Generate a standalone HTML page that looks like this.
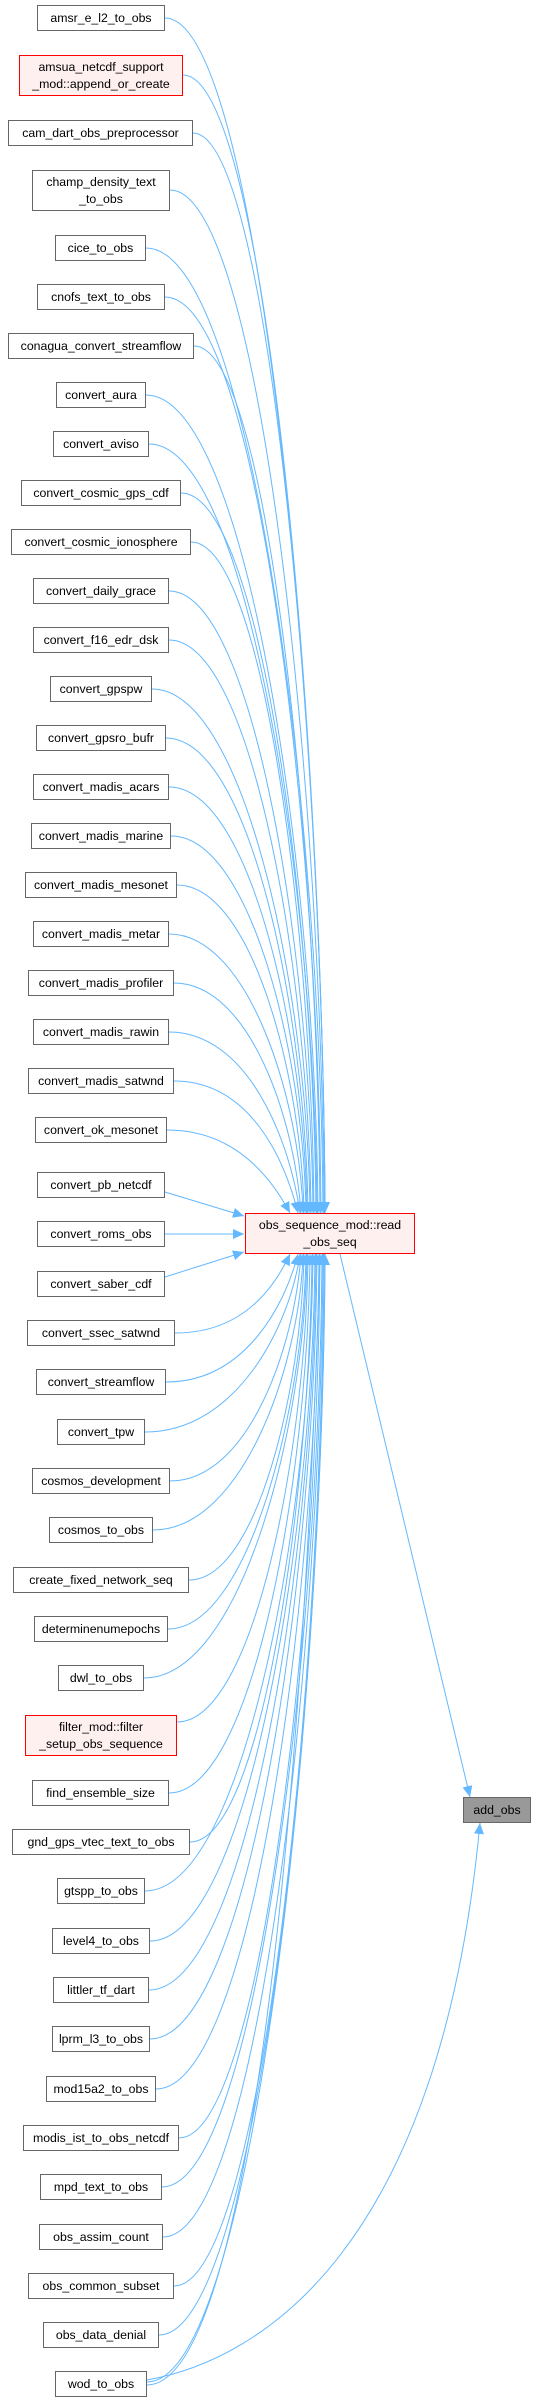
<!DOCTYPE html>
<html><head><meta charset="utf-8"><style>
html,body{margin:0;padding:0;background:#fff;}
body{width:539px;height:2403px;position:relative;overflow:hidden;font-family:"Liberation Sans",Arial,sans-serif;}
.n{position:absolute;box-sizing:border-box;border:1px solid #666;background:#fff;font-size:12.3px;color:#000;text-align:center;height:26px;line-height:24px;white-space:nowrap;}
.t{height:41px;line-height:17px;padding-top:3px;}
.r{border-color:#ff0000;background:#fff0f0;}
svg{position:absolute;left:0;top:0;}
</style></head><body>
<svg width="539" height="2403">
<defs><marker id="a" markerUnits="userSpaceOnUse" markerWidth="12" markerHeight="10" refX="11" refY="5" orient="auto"><path d="M0,0 L11,5 L0,10 z" fill="#63b8ff"/></marker></defs>
<g fill="none" stroke="#63b8ff" stroke-width="1" marker-end="url(#a)">
<path d="M165,18 C261,18 323,735 325,1213"/>
<path d="M183,75 C268,75 323,758 325,1213"/>
<path d="M193,133 C272,133 323,781 325,1213"/>
<path d="M170,190 C262,190 322,804 324,1213"/>
<path d="M146,248 C252,248 321,827 323,1213"/>
<path d="M165,297 C259,297 319,847 321,1213"/>
<path d="M194,346 C270,346 318,866 320,1213"/>
<path d="M146,395 C249,395 316,886 318,1213"/>
<path d="M149,444 C250,444 315,905 317,1213"/>
<path d="M181,493 C262,493 314,925 316,1213"/>
<path d="M191,542 C265,542 312,945 314,1213"/>
<path d="M169,591 C255,591 311,964 313,1213"/>
<path d="M169,640 C254,640 309,984 311,1213"/>
<path d="M152,689 C247,689 308,1003 310,1213"/>
<path d="M166,738 C252,738 306,1023 308,1213"/>
<path d="M169,787 C252,787 305,1043 307,1213"/>
<path d="M171,836 C252,836 304,1062 306,1213"/>
<path d="M177,885 C253,885 302,1082 304,1213"/>
<path d="M169,934 C249,934 300,1101 303,1213"/>
<path d="M174,983 C250,983 295,1121 301,1213"/>
<path d="M169,1032 C248,1032 290,1141 300,1213"/>
<path d="M174,1081 C250,1081 285,1160 298,1213"/>
<path d="M167,1130 C240,1130 275,1185 290,1213"/>
<path d="M165,1192 L244,1216"/>
<path d="M165,1234 L244,1234"/>
<path d="M165,1277 L244,1252"/>
<path d="M175,1333 C244,1333 275,1286 290,1254"/>
<path d="M166,1382 C245,1382 285,1305 298,1254"/>
<path d="M145,1432 C237,1432 290,1325 300,1254"/>
<path d="M170,1481 C249,1481 295,1345 301,1254"/>
<path d="M153,1530 C243,1530 300,1364 303,1254"/>
<path d="M189,1580 C258,1580 302,1384 304,1254"/>
<path d="M168,1629 C249,1629 304,1404 306,1254"/>
<path d="M144,1678 C242,1678 305,1424 307,1254"/>
<path d="M177,1722 C255,1722 306,1446 308,1254"/>
<path d="M169,1793 C255,1793 308,1470 310,1254"/>
<path d="M190,1842 C263,1842 310,1489 312,1254"/>
<path d="M145,1891 C246,1891 311,1509 313,1254"/>
<path d="M150,1941 C249,1941 313,1529 315,1254"/>
<path d="M149,1990 C249,1990 314,1548 316,1254"/>
<path d="M150,2039 C250,2039 315,1568 317,1254"/>
<path d="M156,2089 C254,2089 317,1588 319,1254"/>
<path d="M179,2138 C263,2138 318,1608 320,1254"/>
<path d="M162,2187 C258,2187 320,1627 322,1254"/>
<path d="M163,2237 C259,2237 321,1647 323,1254"/>
<path d="M174,2286 C264,2286 322,1667 324,1254"/>
<path d="M159,2335 C259,2335 323,1686 325,1254"/>
<path d="M147,2382 C254,2382 323,1704 325,1254"/>
<path d="M147,2385 C240,2385 300,1900 320,1254"/>
<path d="M340,1254 L470,1797"/>
<path d="M147,2380 C260,2360 440,2250 480,1823"/>
</g>
</svg>
<div class="n" style="left:37px;top:5px;width:128px">amsr_e_l2_to_obs</div>
<div class="n t r" style="left:19px;top:55px;width:164px">amsua_netcdf_support<br>_mod::append_or_create</div>
<div class="n" style="left:8px;top:120px;width:185px">cam_dart_obs_preprocessor</div>
<div class="n t" style="left:32px;top:170px;width:138px">champ_density_text<br>_to_obs</div>
<div class="n" style="left:55px;top:235px;width:91px">cice_to_obs</div>
<div class="n" style="left:37px;top:284px;width:128px">cnofs_text_to_obs</div>
<div class="n" style="left:8px;top:333px;width:186px">conagua_convert_streamflow</div>
<div class="n" style="left:56px;top:382px;width:90px">convert_aura</div>
<div class="n" style="left:53px;top:431px;width:96px">convert_aviso</div>
<div class="n" style="left:21px;top:480px;width:160px">convert_cosmic_gps_cdf</div>
<div class="n" style="left:11px;top:529px;width:180px">convert_cosmic_ionosphere</div>
<div class="n" style="left:33px;top:578px;width:136px">convert_daily_grace</div>
<div class="n" style="left:33px;top:627px;width:136px">convert_f16_edr_dsk</div>
<div class="n" style="left:50px;top:676px;width:102px">convert_gpspw</div>
<div class="n" style="left:36px;top:725px;width:130px">convert_gpsro_bufr</div>
<div class="n" style="left:33px;top:774px;width:136px">convert_madis_acars</div>
<div class="n" style="left:31px;top:823px;width:140px">convert_madis_marine</div>
<div class="n" style="left:25px;top:872px;width:152px">convert_madis_mesonet</div>
<div class="n" style="left:33px;top:921px;width:136px">convert_madis_metar</div>
<div class="n" style="left:28px;top:970px;width:146px">convert_madis_profiler</div>
<div class="n" style="left:33px;top:1019px;width:136px">convert_madis_rawin</div>
<div class="n" style="left:28px;top:1068px;width:146px">convert_madis_satwnd</div>
<div class="n" style="left:35px;top:1117px;width:132px">convert_ok_mesonet</div>
<div class="n" style="left:37px;top:1172px;width:128px">convert_pb_netcdf</div>
<div class="n" style="left:37px;top:1221px;width:128px">convert_roms_obs</div>
<div class="n" style="left:37px;top:1271px;width:128px">convert_saber_cdf</div>
<div class="n" style="left:27px;top:1320px;width:148px">convert_ssec_satwnd</div>
<div class="n" style="left:36px;top:1369px;width:130px">convert_streamflow</div>
<div class="n" style="left:57px;top:1419px;width:88px">convert_tpw</div>
<div class="n" style="left:32px;top:1468px;width:138px">cosmos_development</div>
<div class="n" style="left:49px;top:1517px;width:104px">cosmos_to_obs</div>
<div class="n" style="left:13px;top:1567px;width:176px">create_fixed_network_seq</div>
<div class="n" style="left:34px;top:1616px;width:134px">determinenumepochs</div>
<div class="n" style="left:58px;top:1665px;width:86px">dwl_to_obs</div>
<div class="n t r" style="left:25px;top:1715px;width:152px">filter_mod::filter<br>_setup_obs_sequence</div>
<div class="n" style="left:32px;top:1780px;width:137px">find_ensemble_size</div>
<div class="n" style="left:12px;top:1829px;width:178px">gnd_gps_vtec_text_to_obs</div>
<div class="n" style="left:57px;top:1878px;width:88px">gtspp_to_obs</div>
<div class="n" style="left:52px;top:1928px;width:98px">level4_to_obs</div>
<div class="n" style="left:53px;top:1977px;width:96px">littler_tf_dart</div>
<div class="n" style="left:52px;top:2026px;width:98px">lprm_l3_to_obs</div>
<div class="n" style="left:46px;top:2076px;width:110px">mod15a2_to_obs</div>
<div class="n" style="left:23px;top:2125px;width:156px">modis_ist_to_obs_netcdf</div>
<div class="n" style="left:40px;top:2174px;width:122px">mpd_text_to_obs</div>
<div class="n" style="left:39px;top:2224px;width:124px">obs_assim_count</div>
<div class="n" style="left:28px;top:2273px;width:146px">obs_common_subset</div>
<div class="n" style="left:43px;top:2322px;width:116px">obs_data_denial</div>
<div class="n" style="left:55px;top:2371px;width:92px">wod_to_obs</div>
<div class="n t r" style="left:245px;top:1213px;width:170px">obs_sequence_mod::read<br>_obs_seq</div>
<div class="n" style="left:463px;top:1797px;width:68px;background:#999">add_obs</div>
</body></html>
